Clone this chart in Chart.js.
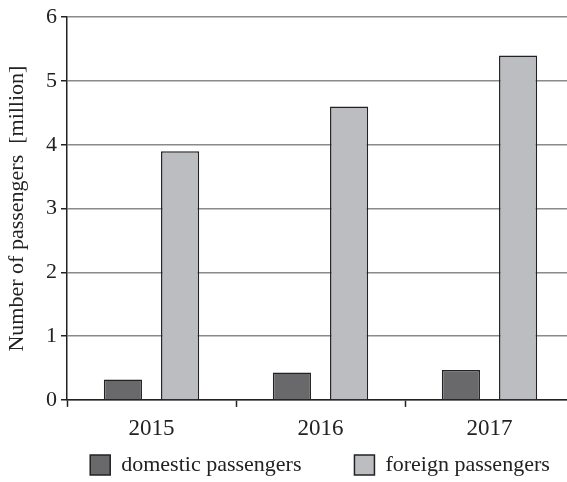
<!DOCTYPE html>
<html>
<head>
<meta charset="utf-8">
<script src="https://cdn.jsdelivr.net/npm/chart.js@4"></script>
<style>
  html, body { margin: 0; padding: 0; background: #fff; overflow: hidden; }
  #wrap { width: 574px; height: 482px; }
</style>
</head>
<body>
<div id="wrap"><canvas id="passChart"></canvas></div>
<script>
// data
const years = ['2015', '2016', '2017'];
const domestic = [0.32, 0.43, 0.47];
const foreign = [3.9, 4.6, 5.4];
const yTicks = [0, 1, 2, 3, 4, 5, 6];

const serif = 'Liberation Serif';
const legendGap = 53;

// move the legend row to where it sits in the picture
const legendPlace = {
  id: 'legendPlace',
  afterLayout(chart) {
    const lg = chart.legend;
    if (!lg) return;
    const dx = 33;
    lg.left += dx;
    lg.right += dx;
    lg.top = 465 - 11 - legendGap;
    lg.bottom = chart.height;
  }
};

const chart = new Chart(document.getElementById('passChart'), {
  type: 'bar',
  data: {
    labels: years,
    datasets: [
      {
        label: 'domestic passengers',
        data: domestic,
        backgroundColor: '#69696b',
        borderColor: '#222',
        borderWidth: 1.5
      },
      {
        label: 'foreign passengers',
        data: foreign,
        backgroundColor: '#bcbdc0',
        borderColor: '#222',
        borderWidth: 1.5
      }
    ]
  },
  options: {
    responsive: true,
    maintainAspectRatio: false,
    animation: false,
    categoryPercentage: 0.677,
    barPercentage: 0.667,
    layout: { padding: { top: 5, right: 0, left: 0, bottom: 1.5 } },
    plugins: {
      tooltip: { enabled: false },
      legend: {
        position: 'bottom',
        maxHeight: 30,
        labels: {
          color: '#222',
          font: { family: serif, size: 22 },
          boxWidth: 20,
          boxHeight: 20,
          padding: legendGap,
          useBorderRadius: false
        }
      }
    },
    scales: {
      x: {
        offset: true,
        border: { display: true, color: '#222', width: 1.5 },
        grid: {
          offset: true,
          drawOnChartArea: false,
          drawTicks: true,
          tickLength: 7,
          tickColor: '#222',
          tickWidth: 1.5
        },
        ticks: { color: '#222', font: { family: serif, size: 23 }, padding: 8, maxRotation: 0 }
      },
      y: {
        min: 0,
        max: 6,
        afterBuildTicks: s => { s.ticks = yTicks.map(v => ({ value: v })); },
        afterFit: s => { s.width = 67; },
        border: { display: true, color: '#222', width: 1.5 },
        grid: {
          color: '#8a8a8a',
          lineWidth: 1.5,
          drawTicks: true,
          tickLength: 6,
          tickColor: '#222',
          tickWidth: 1.5
        },
        ticks: { color: '#222', font: { family: serif, size: 22 }, padding: 4 },
        title: {
          display: true,
          text: 'Number of passengers  [million]',
          color: '#222',
          font: { family: serif, size: 22 },
          padding: { top: 4, bottom: 0 }
        }
      }
    }
  },
  plugins: [legendPlace]
});
</script>
</body>
</html>
